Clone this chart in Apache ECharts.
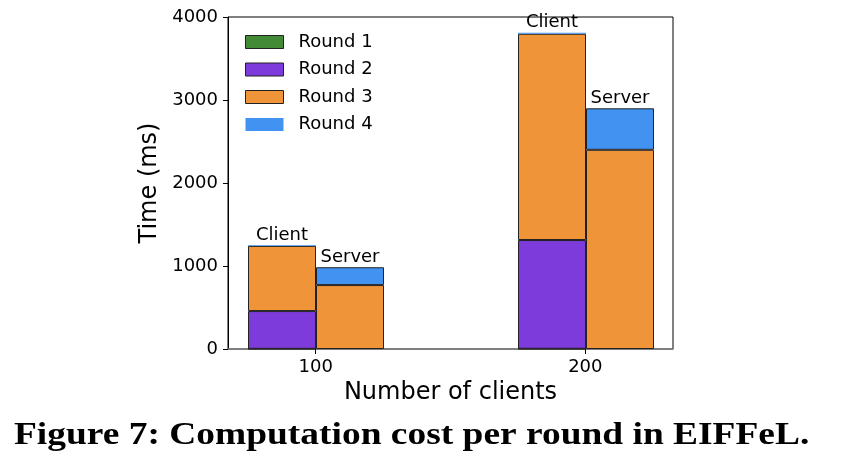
<!DOCTYPE html>
<html><head><meta charset="utf-8">
<script src="https://cdn.jsdelivr.net/npm/echarts@6/dist/echarts.min.js"></script>
<style>html,body{margin:0;padding:0;background:#fff}#c{width:844px;height:466px}</style>
</head><body><div id="c"></div>
<script>
const groups = ['100', '200'];
const groupTicks = [100, 200];
const stacks = ['Client', 'Server'];
const rounds = ['Round 1', 'Round 2', 'Round 3', 'Round 4'];
const colors = ['#428a36', '#7d3bdb', '#f0943a', '#4292f2'];
// values per round (ms), [at 100 clients, at 200 clients]
const client_r1 = [2, 3];
const client_r2 = [455, 1310];
const client_r3 = [785, 2485];
const client_r4 = [8, 12];
const server_r1 = [0, 0];
const server_r2 = [0, 0];
const server_r3 = [770, 2400];
const server_r4 = [215, 500];
const yTicks = [0, 1000, 2000, 3000, 4000];

const clientVals = [client_r1, client_r2, client_r3, client_r4];
const serverVals = [server_r1, server_r2, server_r3, server_r4];

const FONT = 'DejaVu Sans';
const series = [];
[clientVals, serverVals].forEach((vals, si) => {
  vals.forEach((arr, ri) => {
    const noEdge = ri === 3 && si === 0;
    series.push({
      type: 'bar',
      name: rounds[ri],
      stack: stacks[si],
      xAxisIndex: 1, yAxisIndex: 1,
      barWidth: 68,
      barGap: '0%',
      data: arr.map(v => v === 0 ? '-' : v),
      itemStyle: { color: colors[ri], borderColor: noEdge ? colors[3] : '#222', borderWidth: noEdge ? 0 : 1 },
      label: ri === 3 ? { show: true, position: 'top', distance: 1, formatter: stacks[si], color: '#000', fontFamily: FONT, fontSize: 18 } : { show: false },
      emphasis: { disabled: true },
      animation: false
    });
  });
});

const chart = echarts.init(document.getElementById('c'), null, { renderer: 'canvas' });
chart.setOption({
  animation: false,
  grid: [
    { left: 228, top: 17, width: 445, height: 332, show: true, borderColor: '#000', borderWidth: 1, backgroundColor: 'transparent' },
    { left: 181, top: 17, width: 540, height: 332, show: false }
  ],
  legend: {
    orient: 'vertical', left: 245, top: 33, padding: 0,
    itemWidth: 38, itemHeight: 13, itemGap: 9.5, icon: 'rect',
    data: rounds.map((r, i) => ({ name: r, itemStyle: { color: colors[i], borderColor: i === 3 ? colors[3] : '#222', borderWidth: i === 3 ? 0 : 1 } })),
    textStyle: { fontFamily: FONT, fontSize: 18, color: '#000', padding: [0, 0, 0, 10] },
    selectedMode: false
  },
  xAxis: [{
    type: 'value', gridIndex: 0, min: 67.5, max: 232.5,
    name: 'Number of clients', nameLocation: 'middle', nameGap: 32,
    nameTextStyle: { fontFamily: FONT, fontSize: 24, color: '#000' },
    axisLine: { show: true, lineStyle: { color: '#808080', width: 1.5 } },
    axisTick: { show: true, customValues: groupTicks, length: 5, lineStyle: { color: '#000' } },
    axisLabel: { customValues: groupTicks, fontFamily: FONT, fontSize: 18, color: '#000', margin: 9 },
    splitLine: { show: false }
  }, {
    type: 'category', gridIndex: 1, data: groups, show: false
  }],
  yAxis: [{
    type: 'value', gridIndex: 0, min: 0, max: 4000, interval: 1000,
    name: 'Time (ms)', nameLocation: 'middle', nameGap: 60,
    nameTextStyle: { fontFamily: FONT, fontSize: 24, color: '#000' },
    axisLine: { show: true, lineStyle: { color: '#000' } },
    axisTick: { show: true, length: 5, lineStyle: { color: '#000' } },
    axisLabel: { fontFamily: FONT, fontSize: 18, color: '#000', margin: 10, formatter: v => String(v) },
    splitLine: { show: false }
  }, {
    type: 'value', gridIndex: 1, min: 0, max: 4000, interval: 1000, show: false, splitLine: { show: false }
  }],
  graphic: [{
    type: 'text', x: 14, y: 436, scaleX: 1.17,
    style: { text: 'Figure 7: Computation cost per round in EIFFeL.', font: 'bold 32px "Liberation Serif"', fill: '#000', verticalAlign: 'middle' }
  }],
  series: series
});
</script></body></html>
